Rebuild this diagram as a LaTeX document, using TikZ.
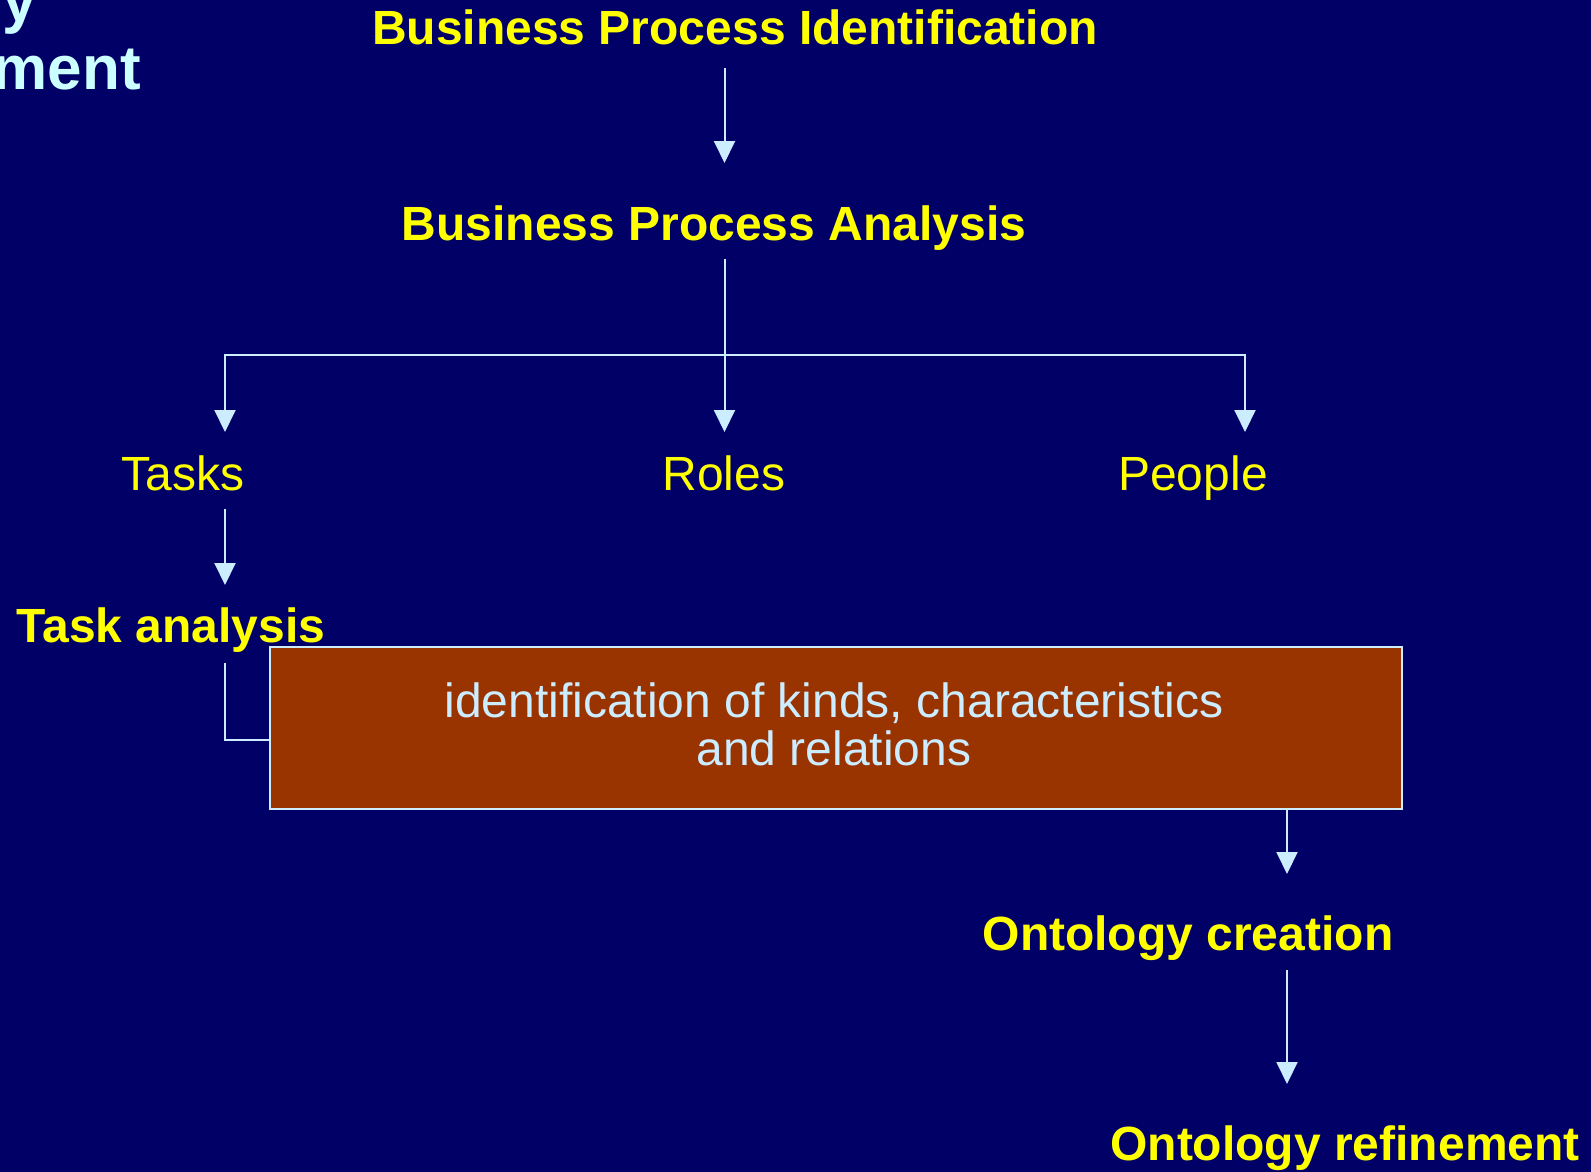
\documentclass[tikz,border=0pt]{standalone}
\usepackage{fontspec}
\setmainfont{Liberation Sans}
\usetikzlibrary{arrows.meta}
\definecolor{navy}{HTML}{000066}
\definecolor{hiyellow}{HTML}{FFFF00}
\definecolor{paleblue}{HTML}{CCECFF}
\definecolor{palecyan}{HTML}{CCFFFF}
\definecolor{rust}{HTML}{993300}
\tikzset{
  heading/.style={text=hiyellow, font=\bfseries\fontsize{48}{54}\selectfont, inner sep=0pt, anchor=base},
  plainlabel/.style={text=hiyellow, font=\fontsize{48}{54}\selectfont, inner sep=0pt, anchor=base},
  flow/.style={draw=paleblue, line width=2pt, -{Triangle[width=21pt,length=22pt,fill=paleblue]}},
  link/.style={draw=paleblue, line width=2pt},
  titletext/.style={text=palecyan, font=\bfseries\fontsize{62}{66}\selectfont, inner sep=0pt, anchor=base east},
  boxtext/.style={text=paleblue, font=\fontsize{48}{50}\selectfont, inner sep=0pt, anchor=base},
}
\begin{document}
\begin{tikzpicture}[x=1pt,y=-1pt]
\useasboundingbox (0,0) rectangle (1591,1172);
\fill[navy] (0,0) rectangle (1591,1172);

% slide title, running off the top-left edge
\begin{scope}
  \clip (0,0) rectangle (1591,1172);
  \node[titletext] (titleA) at (37,22) {Ontology};
  \node[titletext] (titleB) at (141,89) {Development};
\end{scope}

% stages
\node[heading] (bpi) at (735,45) {Business Process Identification};
\node[heading] (bpa) at (714,240) {Business Process Analysis};
\node[plainlabel] (tasks) at (183,490) {Tasks};
\node[plainlabel] (roles) at (724,490) {Roles};
\node[plainlabel] (people) at (1193,490) {People};
\node[heading] (ta) at (171,642) {Task analysis};

\node[draw=paleblue, line width=2pt, fill=rust, minimum width=1132pt, minimum height=162pt,
      inner sep=0pt, anchor=north west] (box) at (269,646) {};
\node[boxtext] (boxl1) at (834,717) {identification of kinds, characteristics};
\node[boxtext] (boxl2) at (834,765) {and relations};

\node[heading] (oc) at (1188,950) {Ontology creation};
\node[heading] (orf) at (1345,1160) {Ontology refinement};

% connectors
\coordinate (bpiFoot) at (724.5,68);
\coordinate (bpiArrow) at (724.5,163);
\coordinate (bpaFoot) at (724.5,259);
\coordinate (split) at (724.5,355);
\coordinate (tasksTop) at (225,432);
\coordinate (rolesTop) at (724.5,432);
\coordinate (peopleTop) at (1245,432);
\coordinate (tasksFoot) at (225,509);
\coordinate (taTop) at (225,585);
\coordinate (taFoot) at (225,663);
\coordinate (boxFoot) at (1287,809);
\coordinate (ocTop) at (1287,874);
\coordinate (ocFoot) at (1287,970);
\coordinate (orfTop) at (1287,1084);

\draw[flow] (bpiFoot) -- (bpiArrow);
\draw[flow] (bpaFoot) -- (rolesTop);
\draw[flow] (split) -| (tasksTop);
\draw[flow] (split) -| (peopleTop);
\draw[flow] (tasksFoot) -- (taTop);
\draw[link] (taFoot) |- (box.west |- 0,740);
\draw[flow] (boxFoot) -- (ocTop);
\draw[flow] (ocFoot) -- (orfTop);
\end{tikzpicture}
\end{document}
